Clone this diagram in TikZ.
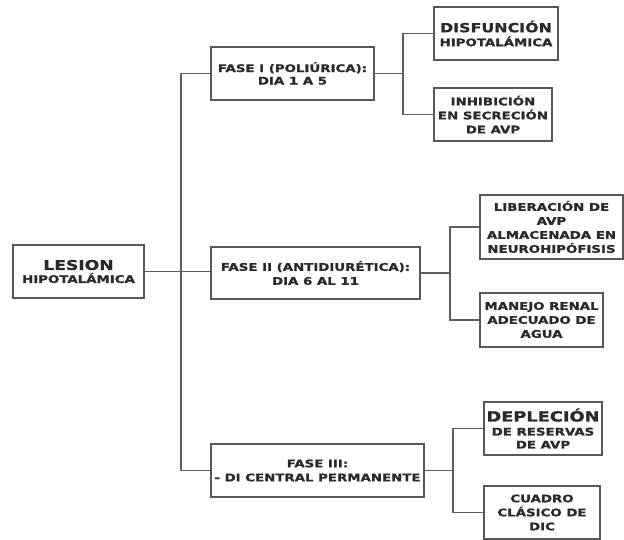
\documentclass[tikz,border=0pt]{standalone}
\usepackage{fontspec}
\setmainfont{DejaVu Sans}[BoldFont=DejaVu Sans Bold, FakeStretch=1.27, BoldFeatures={FakeBold=1.3}]
\definecolor{linegray}{HTML}{5E5E5E}
\definecolor{boxgray}{HTML}{585858}
\definecolor{txt}{HTML}{2A2A2A}
\tikzset{
  box/.style={draw=boxgray, line width=1.5pt, inner sep=0pt, align=center, text=txt,
    font=\bfseries\fontsize{10.5}{14}\selectfont},
  conn/.style={draw=linegray, line width=1.3pt}
}
\begin{document}
\begin{tikzpicture}[x=1pt,y=-1pt]
\useasboundingbox (0,0) rectangle (624,540);
% nodes
\node[box, minimum width=131pt, minimum height=53pt] (L) at (78.5,271.5)
  {{\fontsize{13.5}{15}\selectfont LESION}\\[-1pt]HIPOTALÁMICA};
\node[box, minimum width=163pt, minimum height=53pt] (F1) at (292.5,73.5)
  {FASE I (POLIÚRICA):\\[-1.5pt]DIA 1 A 5};
\node[box, minimum width=209pt, minimum height=52pt] (F2) at (315.5,273)
  {FASE II (ANTIDIURÉTICA):\\DIA 6 AL 11};
\node[box, minimum width=213pt, minimum height=53pt] (F3) at (317.5,470.5)
  {FASE III:\\- DI CENTRAL PERMANENTE};
\node[box, minimum width=124pt, minimum height=53pt] (D1) at (496,33.5)
  {{\fontsize{12.5}{14}\selectfont DISFUNCIÓN}\\HIPOTALÁMICA};
\node[box, minimum width=118pt, minimum height=53pt] (D2) at (493,114.5)
  {INHIBICIÓN\\EN SECRECIÓN\\DE AVP};
\node[box, minimum width=143pt, minimum height=64pt] (E1) at (551.5,227)
  {LIBERACIÓN DE\\AVP\\ALMACENADA EN\\NEUROHIPÓFISIS};
\node[box, minimum width=123pt, minimum height=54pt] (E2) at (541.5,320)
  {MANEJO RENAL\\ADECUADO DE\\AGUA};
\node[box, minimum width=118pt, minimum height=53pt] (G1) at (543,428.5)
  {{\fontsize{14}{15}\selectfont DEPLECIÓN}\\DE RESERVAS\\[-1pt]DE AVP};
\node[box, minimum width=116pt, minimum height=53pt] (G2) at (542,512.5)
  {CUADRO\\CLÁSICO DE\\DIC};
% junction points
\coordinate (tm) at (181,271.5);
\coordinate (b1) at (403,73.5);
\coordinate (b2) at (450,273);
\coordinate (b3) at (453,470.5);
% connectors
\draw[conn] (L.east) -- (tm);
\draw[conn] (F1.west) -| (tm) |- (F3.west);
\draw[conn] (tm) -- (tm -| F2.west);
\draw[conn] (F1.east) -- (b1);
\draw[conn] (D1.west) -| (b1) |- (D2.west);
\draw[conn] (F2.east) -- (b2);
\draw[conn] (E1.west) -| (b2) |- (E2.west);
\draw[conn] (F3.east) -- (b3);
\draw[conn] (G1.west) -| (b3) |- (G2.west);
\end{tikzpicture}
\end{document}
